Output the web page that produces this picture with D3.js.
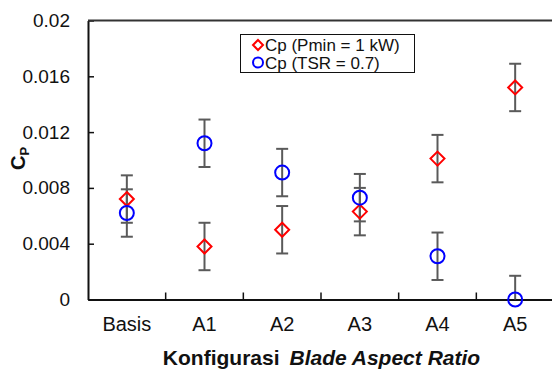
<!DOCTYPE html>
<html>
<head>
<meta charset="utf-8">
<script src="https://cdn.jsdelivr.net/npm/d3@7.9.0/dist/d3.min.js"></script>
<style>
  body { margin: 0; background: #fff; }
  svg { display: block; font-family: "Liberation Sans", Arial, sans-serif; }
</style>
</head>
<body>
<svg id="chart" width="552" height="369"></svg>
<script>
const categories = ['Basis', 'A1', 'A2', 'A3', 'A4', 'A5'];
const cpPmin = [0.0072, 0.0038, 0.0050, 0.0063, 0.0101, 0.0152];
const cpPminErr = [0.0017, 0.0017, 0.0017, 0.0017, 0.0017, 0.0017];
const cpTsr = [0.0062, 0.0112, 0.0091, 0.0073, 0.0031, 0.0000];
const cpTsrErr = [0.0017, 0.0017, 0.0017, 0.0017, 0.0017, 0.0017];
const yTicks = [0, 0.004, 0.008, 0.012, 0.016, 0.02];
const yTickLabels = ['0', '0.004', '0.008', '0.012', '0.016', '0.02'];
const legendLabels = ['Cp (Pmin = 1 kW)', 'Cp (TSR = 0.7)'];

const svg = d3.select('#chart');
const plotLeft = 88, plotRight = 554, plotTop = 20.5, plotBottom = 299.5;

const x = d3.scaleBand().domain(categories).range([plotLeft, plotRight]).padding(0);
const y = d3.scaleLinear().domain([0, 0.02]).range([plotBottom, plotTop]);

// y axis with inward ticks
const yAxis = svg.append('g')
  .attr('transform', `translate(${plotLeft},0)`)
  .call(d3.axisLeft(y).tickValues(yTicks)
    .tickFormat((d, i) => yTickLabels[i])
    .tickSize(-6).tickSizeOuter(0).tickPadding(18));
yAxis.select('.domain').attr('stroke', '#111').attr('stroke-width', 2);
yAxis.selectAll('.tick line').attr('stroke', '#111').attr('stroke-width', 1.5);
yAxis.selectAll('.tick text').attr('font-size', 19).attr('fill', '#111')
  .attr('font-family', '"Liberation Sans", Arial, sans-serif');

// top frame line
svg.append('line')
  .attr('x1', plotLeft).attr('x2', plotRight).attr('y1', plotTop).attr('y2', plotTop)
  .attr('stroke', '#333').attr('stroke-width', 2);

// x axis: labels at band centres
const xAxis = svg.append('g')
  .attr('transform', `translate(0,${plotBottom})`)
  .call(d3.axisBottom(x).tickSize(0).tickPadding(17));
xAxis.select('.domain').attr('stroke', '#111').attr('stroke-width', 2);
xAxis.selectAll('.tick text').attr('font-size', 20).attr('fill', '#111')
  .attr('font-family', '"Liberation Sans", Arial, sans-serif');

// x ticks at band boundaries, pointing inward
svg.append('g').selectAll('line')
  .data(categories.slice(0, -1))
  .join('line')
  .attr('x1', d => x(d) + x.bandwidth()).attr('x2', d => x(d) + x.bandwidth())
  .attr('y1', plotBottom).attr('y2', plotBottom - 7)
  .attr('stroke', '#111').attr('stroke-width', 1.5);

// error bars
const series = [
  { values: cpPmin, err: cpPminErr },
  { values: cpTsr, err: cpTsrErr }
];
const cap = 6;
const errG = svg.append('g').attr('stroke', '#5a5a5a').attr('stroke-width', 2);
series.forEach(s => {
  categories.forEach((c, i) => {
    const cx = x(c) + x.bandwidth() / 2;
    const hi = y(s.values[i] + s.err[i]);
    const lo = y(Math.max(0, s.values[i] - s.err[i]));
    errG.append('line').attr('x1', cx).attr('x2', cx).attr('y1', hi).attr('y2', lo);
    errG.append('line').attr('x1', cx - cap).attr('x2', cx + cap).attr('y1', hi).attr('y2', hi);
    if (s.values[i] - s.err[i] >= 0) {
      errG.append('line').attr('x1', cx - cap).attr('x2', cx + cap).attr('y1', lo).attr('y2', lo);
    }
  });
});

const diamond = (cx, cy, r) => `M${cx},${cy - r}L${cx + r},${cy}L${cx},${cy + r}L${cx - r},${cy}Z`;

// red diamonds
svg.append('g').selectAll('path')
  .data(cpPmin)
  .join('path')
  .attr('d', (d, i) => diamond(x(categories[i]) + x.bandwidth() / 2, y(d), 7))
  .attr('fill', 'none').attr('stroke', '#ff0000').attr('stroke-width', 2);

// blue circles
svg.append('g').selectAll('circle')
  .data(cpTsr)
  .join('circle')
  .attr('cx', (d, i) => x(categories[i]) + x.bandwidth() / 2)
  .attr('cy', d => y(d))
  .attr('r', 7)
  .attr('fill', 'none').attr('stroke', '#0000ff').attr('stroke-width', 2);

// legend
const lg = svg.append('g');
lg.append('rect').attr('x', 240.5).attr('y', 34.5).attr('width', 174).attr('height', 38)
  .attr('fill', '#fff').attr('stroke', '#111').attr('stroke-width', 1);
lg.append('path').attr('d', diamond(258, 45, 5))
  .attr('fill', 'none').attr('stroke', '#ff0000').attr('stroke-width', 2);
lg.append('circle').attr('cx', 258).attr('cy', 62.5).attr('r', 5)
  .attr('fill', 'none').attr('stroke', '#0000ff').attr('stroke-width', 2);
legendLabels.forEach((t, i) => {
  lg.append('text').attr('x', 265).attr('y', 50.5 + i * 18)
    .attr('font-size', 17).attr('fill', '#111').text(t);
});

// axis titles
const xt = svg.append('text')
  .attr('x', 321.5).attr('y', 365)
  .attr('text-anchor', 'middle').attr('font-size', 21).attr('font-weight', 'bold').attr('fill', '#111');
xt.append('tspan').text('Konfigurasi');
xt.append('tspan').attr('dx', 10).attr('font-style', 'italic').text('Blade Aspect Ratio');

const yt = svg.append('text')
  .attr('transform', 'translate(25,170) rotate(-90)')
  .attr('font-weight', 'bold').attr('fill', '#111');
yt.append('tspan').attr('font-size', 20).text('C');
yt.append('tspan').attr('font-size', 13).attr('dy', 4).text('P');
</script>
</body>
</html>
